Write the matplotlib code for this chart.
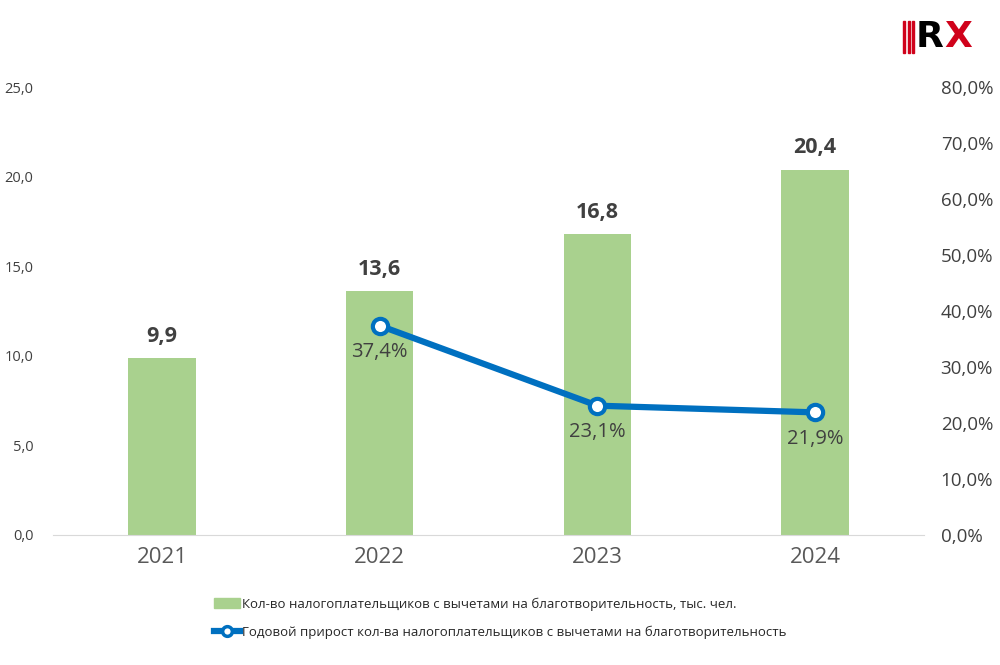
import matplotlib.pyplot as plt
import matplotlib.ticker as ticker
import numpy as np
from matplotlib.lines import Line2D
from matplotlib.patches import Patch, Rectangle

plt.rcParams['font.family'] = ['Open Sans', 'DejaVu Sans']

# данные
years = ["2021", "2022", "2023", "2024"]
taxpayers = [9.9, 13.6, 16.8, 20.4]          # тыс. чел.
growth_years = ["2022", "2023", "2024"]
growth = [37.4, 23.1, 21.9]                  # %

bar_color = "#A9D18E"
line_color = "#0070C0"
text_color = "#404040"

fig = plt.figure(figsize=(10, 6.65), dpi=100)
ax = fig.add_axes([0.053, 0.1955, 0.871, 0.6735])
ax2 = ax.twinx()

x = np.arange(len(years))
bars = ax.bar(x, taxpayers, width=0.31, color=bar_color, zorder=2)
ax.set_xlim(-0.5, len(years) - 0.5)
ax.set_ylim(0, 25)
ax.yaxis.set_major_locator(ticker.FixedLocator(np.arange(0, 26, 5)))
ax.yaxis.set_major_formatter(ticker.FuncFormatter(lambda v, p: f"{v:.1f}".replace(".", ",")))
ax.set_xticks(x)
ax.set_xticklabels(years)
ax.tick_params(axis="x", length=0, labelsize=16, labelcolor="#595959", pad=9)
ax.tick_params(axis="y", length=0, labelsize=10.5, labelcolor=text_color, pad=14)

for b, v in zip(bars, taxpayers):
    ax.annotate(f"{v:.1f}".replace(".", ","), (b.get_x() + b.get_width() / 2, v),
                xytext=(0, 8), textcoords="offset points", ha="center", va="bottom",
                fontsize=15.5, fontweight="bold", color=text_color)

gx = [years.index(y) for y in growth_years]
ax2.plot(gx, growth, color=line_color, linewidth=4.5, marker="o", markersize=11,
         markerfacecolor="white", markeredgecolor=line_color, markeredgewidth=3, zorder=3)
ax2.set_ylim(0, 80)
ax2.yaxis.set_major_locator(ticker.FixedLocator(np.arange(0, 81, 10)))
ax2.yaxis.set_major_formatter(ticker.FuncFormatter(lambda v, p: f"{v:.1f}%".replace(".", ",")))
ax2.tick_params(axis="y", length=0, labelsize=13.5, labelcolor=text_color, pad=12)

for xi, v in zip(gx, growth):
    ax2.annotate(f"{v:.1f}%".replace(".", ","), (xi, v), xytext=(0, -12),
                 textcoords="offset points", ha="center", va="top",
                 fontsize=14.5, color=text_color)

for a in (ax, ax2):
    for s in a.spines.values():
        s.set_visible(False)
ax.spines["bottom"].set_visible(True)
ax.spines["bottom"].set_color("#D9D9D9")

handles = [Patch(color=bar_color),
           Line2D([], [], color=line_color, linewidth=4.5, marker="o", markersize=7,
                  markerfacecolor="white", markeredgecolor=line_color, markeredgewidth=2.5)]
labels = ["Кол-во налогоплательщиков с вычетами на благотворительность, тыс. чел.",
          "Годовой прирост кол-ва налогоплательщиков с вычетами на благотворительность"]
fig.legend(handles, labels, loc="lower center", bbox_to_anchor=(0.5, 0.02), frameon=False,
           fontsize=9.5, labelcolor="#262626", handlelength=2.0, handletextpad=0.1,
           labelspacing=1.1, borderpad=0.5)

# логотип RX
for i in range(3):
    fig.patches.append(Rectangle((0.903 + i * 0.0045, 0.921), 0.0022, 0.048,
                                 transform=fig.transFigure, color="#D0021B"))
fig.text(0.916, 0.944, "R", fontsize=26, fontweight="heavy", color="black",
         ha="left", va="center", family="DejaVu Sans")
fig.text(0.9445, 0.944, "X", fontsize=26, fontweight="heavy", color="#D0021B",
         ha="left", va="center", family="DejaVu Sans")

fig.savefig("out.png", dpi=100)
